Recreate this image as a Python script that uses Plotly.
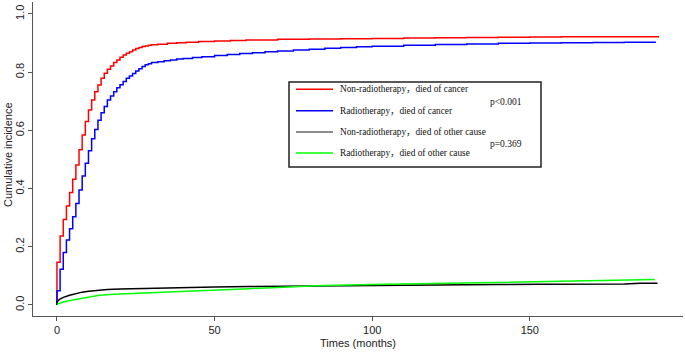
import plotly.graph_objects as go

# ---- data ----
red_t = [0, 0, 1, 2, 3, 4, 5, 6, 7, 8, 9, 10, 11, 12, 13, 14, 15, 16, 17, 18, 19, 20,
         21, 22, 23, 24, 25, 26, 27, 28, 29, 30, 32, 35, 38, 41, 45, 50, 55, 60, 70, 80,
         90, 100, 110, 120, 130, 140, 150, 160, 170, 180, 191]
red_y = [0, 0.147, 0.237, 0.294, 0.340, 0.386, 0.432, 0.481, 0.533, 0.584, 0.630, 0.670,
         0.704, 0.733, 0.756, 0.779, 0.796, 0.810, 0.821, 0.833, 0.842, 0.851, 0.859,
         0.865, 0.870, 0.876, 0.881, 0.885, 0.888, 0.890, 0.892, 0.894, 0.896, 0.899,
         0.901, 0.903, 0.905, 0.907, 0.909, 0.910, 0.913, 0.914, 0.915, 0.916, 0.917,
         0.918, 0.919, 0.920, 0.921, 0.922, 0.922, 0.922, 0.922]

blue_t = [0, 0, 1, 2, 3, 4, 5, 6, 7, 8, 9, 10, 11, 12, 13, 14, 15, 16, 17, 18, 19, 20,
          21, 22, 23, 24, 25, 26, 27, 28, 29, 30, 32, 34, 36, 38, 40, 43, 46, 50, 54, 58,
          62, 66, 70, 75, 80, 85, 90, 95, 100, 110, 120, 130, 140, 150, 160, 170, 180, 190]
blue_y = [0, 0.049, 0.123, 0.180, 0.223, 0.262, 0.303, 0.349, 0.395, 0.443, 0.487, 0.530,
          0.571, 0.603, 0.635, 0.660, 0.682, 0.704, 0.718, 0.733, 0.746, 0.757, 0.768,
          0.779, 0.787, 0.795, 0.804, 0.812, 0.819, 0.825, 0.829, 0.833, 0.836, 0.839,
          0.842, 0.845, 0.847, 0.850, 0.853, 0.857, 0.861, 0.864, 0.867, 0.870, 0.873,
          0.876, 0.879, 0.882, 0.885, 0.887, 0.889, 0.892, 0.895, 0.897, 0.899, 0.900,
          0.901, 0.902, 0.903, 0.903]

black_t = [0, 0, 0.8, 2, 4, 6, 8, 10, 13, 16, 20, 24, 30, 40, 50, 61, 70, 82, 100, 121,
           140, 153, 170, 180, 185, 190.5]
black_y = [0, 0.010, 0.019, 0.026, 0.033, 0.039, 0.044, 0.047, 0.051, 0.053, 0.055, 0.056,
           0.058, 0.060, 0.062, 0.063, 0.064, 0.066, 0.068, 0.069, 0.070, 0.071, 0.071,
           0.072, 0.0745, 0.0745]

green_t = [0, 2, 5, 8.3, 13.5, 18, 24, 30, 40, 50, 61, 70, 82, 100, 121, 140, 153, 170,
           179.5, 185, 189.6]
green_y = [0.002, 0.010, 0.017, 0.023, 0.033, 0.037, 0.040, 0.043, 0.048, 0.052, 0.056,
           0.060, 0.066, 0.070, 0.0745, 0.078, 0.080, 0.083, 0.085, 0.087, 0.087]

legend_labels = ["Non-radiotherapy，died of cancer", "Radiotherapy，died of cancer",
                 "Non-radiotherapy，died of other cause", "Radiotherapy，died of other cause"]
p_labels = ["p<0.001", "p=0.369"]
x_ticks = [0, 50, 100, 150]
y_ticks = [0.0, 0.2, 0.4, 0.6, 0.8, 1.0]
y_ticktext = ["0.0", "0.2", "0.4", "0.6", "0.8", "1.0"]

colors = ["#FF0000", "#0000FF", "#000000", "#00FF00"]

# ---- figure ----
W, H = 685, 352
ML, MR, MT, MB = 33, 2, 2, 36
PW, PH = W - ML - MR, H - MT - MB

def px(x):
    return (x - ML) / PW

def py(y):
    return 1 - (y - MT) / PH

fig = go.Figure()
fig.add_trace(go.Scatter(x=red_t, y=red_y, mode="lines", line=dict(color=colors[0], width=1.5, shape="hv"), showlegend=False))
fig.add_trace(go.Scatter(x=blue_t, y=blue_y, mode="lines", line=dict(color=colors[1], width=1.5, shape="hv"), showlegend=False))
fig.add_trace(go.Scatter(x=black_t, y=black_y, mode="lines", line=dict(color=colors[2], width=1.5), showlegend=False))
fig.add_trace(go.Scatter(x=green_t, y=green_y, mode="lines", line=dict(color=colors[3], width=1.5), showlegend=False))

shapes = []
annotations = []
serif = "Liberation Serif, Noto Sans CJK SC, serif"
# legend box
shapes.append(dict(type="rect", xref="paper", yref="paper", x0=px(289), x1=px(541),
                   y0=py(167), y1=py(82), line=dict(color="#222", width=1.5)))
rows = [89.3, 110.7, 132, 153]
for i, r in enumerate(rows):
    shapes.append(dict(type="line", xref="paper", yref="paper", x0=px(296), x1=px(333),
                       y0=py(r), y1=py(r), line=dict(color=colors[i] if i != 2 else "#666", width=1.5)))
    annotations.append(dict(text=legend_labels[i], xref="paper", yref="paper", x=px(338),
                            y=py(r), xanchor="left", yanchor="middle", showarrow=False,
                            font=dict(family=serif, size=9.3, color="#111")))
for txt, r in zip(p_labels, [102, 144]):
    annotations.append(dict(text=txt, xref="paper", yref="paper", x=px(488), y=py(r),
                            xanchor="left", yanchor="middle", showarrow=False,
                            font=dict(family=serif, size=9.5, color="#111")))
# axis titles
annotations.append(dict(text="Times (months)", xref="paper", yref="paper", x=px(358), y=py(343),
                        xanchor="center", yanchor="middle", showarrow=False,
                        font=dict(family="Liberation Sans, Arial, sans-serif", size=11, color="#222")))
annotations.append(dict(text="Cumulative incidence", xref="paper", yref="paper", x=px(8), y=py(155),
                        xanchor="center", yanchor="middle", showarrow=False, textangle=-90,
                        font=dict(family="Liberation Sans, Arial, sans-serif", size=11, color="#222")))

fig.update_layout(
    width=W, height=H, margin=dict(l=ML, r=MR, t=MT, b=MB, autoexpand=False),
    paper_bgcolor="white", plot_bgcolor="white",
    shapes=shapes, annotations=annotations,
    font=dict(family="Liberation Sans, Arial, sans-serif", size=11, color="#222"),
)
fig.update_xaxes(range=[-7.6, 198.6], tickvals=x_ticks, showgrid=False, zeroline=False,
                 showline=True, linecolor="#555", linewidth=1, ticks="outside", ticklen=4,
                 tickcolor="#555", tickfont=dict(size=11), automargin=False)
fig.update_yaxes(range=[-0.038, 1.041], tickvals=y_ticks, ticktext=y_ticktext, showgrid=False,
                 zeroline=False, showline=True, linecolor="#555", linewidth=1, ticks="outside",
                 ticklen=4, tickcolor="#555", tickangle=-90, tickfont=dict(size=11), automargin=False)

fig.write_html("out.html", config={"displayModeBar": False},
               post_script="document.body.style.margin='0px';document.body.style.overflow='hidden';")
